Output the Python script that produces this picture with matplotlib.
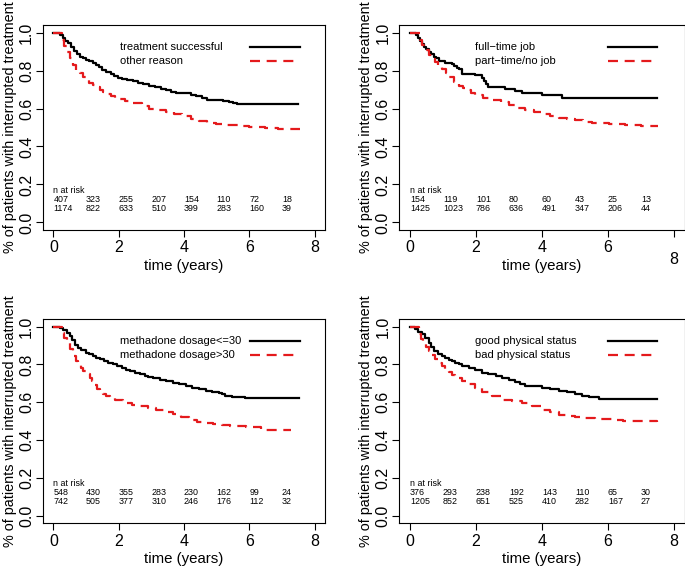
import matplotlib
matplotlib.use("Agg")
import matplotlib.pyplot as plt
from matplotlib.transforms import ScaledTranslation

plt.rcParams['font.family'] = ['Liberation Sans', 'DejaVu Sans']

# --- data (Kaplan-Meier step curves) ---
# panel 1: reason for leaving
t_succ = [0, 0.2, 0.28, 0.36, 0.45, 0.55, 0.63, 0.71, 0.8, 0.9, 1.0, 1.1, 1.2, 1.3, 1.4, 1.5, 1.62, 1.75, 1.87, 1.97,
          2.1, 2.25, 2.43, 2.6, 2.75, 2.94, 3.1, 3.3, 3.45, 3.6, 3.75, 4.05, 4.2, 4.36, 4.55, 4.71, 5.0, 5.2, 5.37,
          5.5, 5.62, 7.5]
s_succ = [1.0, 0.985, 0.97, 0.958, 0.945, 0.925, 0.905, 0.889, 0.872, 0.864, 0.858, 0.85, 0.84, 0.83, 0.818, 0.803,
          0.79, 0.78, 0.77, 0.762, 0.758, 0.752, 0.747, 0.737, 0.727, 0.717, 0.712, 0.705, 0.70, 0.688, 0.682, 0.68,
          0.673, 0.668, 0.657, 0.647, 0.643, 0.638, 0.635, 0.628, 0.624, 0.624]
t_other = [0, 0.25, 0.32, 0.4, 0.5, 0.61, 0.7, 0.8, 0.91, 1.0, 1.1, 1.2, 1.3, 1.42, 1.52, 1.62, 1.75, 1.9, 2.03,
           2.2, 2.43, 2.7, 2.94, 3.2, 3.45, 3.7, 3.95, 4.2, 4.46, 4.7, 4.97, 5.2, 5.47, 5.75, 5.98, 6.25, 6.49,
           6.7, 6.89, 7.55]
s_other = [1.0, 0.96, 0.93, 0.9, 0.865, 0.827, 0.805, 0.785, 0.765, 0.75, 0.737, 0.724, 0.712, 0.70, 0.688, 0.677,
           0.668, 0.658, 0.65, 0.642, 0.63, 0.615, 0.60, 0.59, 0.58, 0.57, 0.558, 0.546, 0.535, 0.526, 0.518, 0.515,
           0.512, 0.507, 0.503, 0.501, 0.499, 0.495, 0.491, 0.491]

# panel 2: job
t_full = [0, 0.18, 0.24, 0.3, 0.36, 0.42, 0.5, 0.58, 0.65, 0.72, 0.8, 0.87, 1.07, 1.27, 1.35, 1.42, 1.5, 1.58,
          1.98, 2.18, 2.25, 2.32, 2.38, 2.89, 3.19, 3.39, 4.0, 4.61, 7.48]
s_full = [1.0, 0.985, 0.97, 0.955, 0.94, 0.925, 0.912, 0.9, 0.886, 0.872, 0.865, 0.85, 0.84, 0.835, 0.825, 0.815,
          0.806, 0.78, 0.775, 0.76, 0.745, 0.73, 0.715, 0.705, 0.694, 0.682, 0.67, 0.657, 0.657]
t_part = [0, 0.3, 0.38, 0.45, 0.57, 0.66, 0.75, 0.86, 0.97, 1.08, 1.2, 1.34, 1.48, 1.6, 1.7, 1.85, 1.98, 2.2,
          2.48, 2.75, 2.99, 3.25, 3.49, 3.75, 4.0, 4.25, 4.51, 4.75, 5.01, 5.25, 5.52, 5.75, 6.02, 6.25, 6.52,
          7.0, 7.5]
s_part = [1.0, 0.96, 0.935, 0.91, 0.88, 0.862, 0.845, 0.828, 0.81, 0.788, 0.765, 0.742, 0.72, 0.706, 0.695,
          0.682, 0.67, 0.657, 0.643, 0.632, 0.62, 0.605, 0.59, 0.58, 0.569, 0.56, 0.551, 0.544, 0.537, 0.53, 0.524,
          0.522, 0.52, 0.516, 0.512, 0.51, 0.51]

# panel 3: methadone dosage
t_low = [0, 0.2, 0.3, 0.4, 0.51, 0.58, 0.66, 0.75, 0.85, 1.01, 1.1, 1.2, 1.3, 1.42, 1.55, 1.68, 1.82, 1.95, 2.1,
         2.23, 2.35, 2.5, 2.64, 2.8, 2.9, 3.04, 3.25, 3.45, 3.65, 3.85, 4.05, 4.26, 4.45, 4.66, 4.85, 5.07, 5.17,
         5.27, 5.47, 5.88, 7.53]
s_low = [1.0, 0.99, 0.98, 0.968, 0.95, 0.93, 0.905, 0.888, 0.875, 0.862, 0.853, 0.845, 0.836, 0.827, 0.818, 0.808,
         0.80, 0.79, 0.78, 0.77, 0.765, 0.755, 0.748, 0.74, 0.733, 0.727, 0.72, 0.713, 0.703, 0.695, 0.686, 0.676,
         0.668, 0.659, 0.655, 0.65, 0.642, 0.635, 0.626, 0.623, 0.623]
t_high = [0, 0.25, 0.33, 0.4, 0.5, 0.61, 0.68, 0.75, 0.83, 0.91, 1.0, 1.11, 1.18, 1.25, 1.33, 1.42, 1.52, 1.62,
          1.72, 1.9, 2.13, 2.4, 2.64, 2.9, 3.14, 3.4, 3.65, 3.9, 4.15, 4.4, 4.66, 4.9, 5.17, 5.4, 5.67, 5.9, 6.18,
          6.35, 6.49, 7.29]
s_high = [1.0, 0.965, 0.94, 0.915, 0.88, 0.844, 0.82, 0.80, 0.78, 0.764, 0.748, 0.729, 0.71, 0.69, 0.672, 0.658,
          0.645, 0.632, 0.623, 0.61, 0.597, 0.588, 0.579, 0.57, 0.561, 0.55, 0.538, 0.523, 0.508, 0.498, 0.49,
          0.483, 0.478, 0.475, 0.472, 0.47, 0.467, 0.46, 0.455, 0.455]

# panel 4: physical status
t_good = [0, 0.16, 0.25, 0.36, 0.46, 0.57, 0.65, 0.72, 0.85, 0.97, 1.07, 1.17, 1.27, 1.37, 1.48, 1.58, 1.78, 1.98,
          2.18, 2.38, 2.6, 2.79, 3.0, 3.19, 3.35, 3.49, 4.0, 4.25, 4.51, 4.75, 5.01, 5.2, 5.42, 5.72, 7.48]
s_good = [1.0, 0.985, 0.972, 0.959, 0.94, 0.915, 0.89, 0.87, 0.855, 0.844, 0.834, 0.825, 0.817, 0.809, 0.8, 0.791,
          0.78, 0.768, 0.757, 0.748, 0.737, 0.727, 0.718, 0.709, 0.697, 0.685, 0.676, 0.669, 0.662, 0.652, 0.641,
          0.634, 0.627, 0.616, 0.616]
t_bad = [0, 0.27, 0.33, 0.4, 0.48, 0.57, 0.66, 0.75, 0.86, 0.97, 1.07, 1.17, 1.27, 1.37, 1.57, 1.78, 1.98, 2.18,
         2.48, 2.79, 3.1, 3.39, 3.7, 4.0, 4.25, 4.51, 4.75, 5.01, 5.3, 5.62, 5.9, 6.22, 6.45, 6.64, 7.48]
s_bad = [1.0, 0.96, 0.935, 0.91, 0.89, 0.87, 0.85, 0.83, 0.81, 0.791, 0.775, 0.76, 0.745, 0.729, 0.71, 0.694,
         0.675, 0.655, 0.635, 0.614, 0.606, 0.597, 0.58, 0.561, 0.547, 0.534, 0.526, 0.52, 0.516, 0.513, 0.51,
         0.508, 0.503, 0.499, 0.497]

risk_times = [0, 1, 2, 3, 4, 5, 6, 7]
risk_succ = [407, 323, 255, 207, 154, 110, 72, 18]
risk_other = [1174, 822, 633, 510, 399, 283, 160, 39]
risk_full = [154, 119, 101, 80, 60, 43, 25, 13]
risk_part = [1425, 1023, 786, 636, 491, 347, 206, 44]
risk_low = [548, 430, 355, 283, 230, 162, 99, 24]
risk_high = [742, 505, 377, 310, 246, 176, 112, 32]
risk_good = [376, 293, 238, 192, 143, 110, 65, 30]
risk_bad = [1205, 852, 651, 525, 410, 282, 167, 27]

labels_1 = ["treatment successful", "other reason"]
labels_2 = ["full\u2212time job", "part\u2212time/no job"]
labels_3 = ["methadone dosage<=30", "methadone dosage>30"]
labels_4 = ["good physical status", "bad physical status"]

x_ticks = [0, 2, 4, 6, 8]
y_ticks = [0.0, 0.2, 0.4, 0.6, 0.8, 1.0]
y_ticklabels = ["0.0", "0.2", "0.4", "0.6", "0.8", "1.0"]

RED = '#e41a1c'

fig = plt.figure(figsize=(6.85, 5.71), dpi=100)
W, H = 685, 571


def make_ax(left, top, right, bottom):
    return fig.add_axes([left / W, 1 - bottom / H, (right - left) / W, (bottom - top) / H])


def panel(ax, t1, s1, t2, s2, labels, r1, r2, leg_x, line_x):
    ax.step(t1, s1, where='post', color='black', lw=1.6)
    ax.step(t2, s2, where='post', color=RED, lw=1.6, dashes=(4.5, 3.0))

    # legend without box, R style: labels left, line samples right
    ax.text(leg_x, 0.925, labels[0], fontsize=8, va='center', ha='left')
    ax.text(leg_x, 0.85, labels[1], fontsize=8, va='center', ha='left')
    ax.plot(line_x, [0.925, 0.925], color='black', lw=1.6)
    ax.plot(line_x, [0.85, 0.85], color=RED, lw=1.6, dashes=(4.5, 3.0))

    # n at risk table
    ax.text(0, 0.17, "n at risk", fontsize=6.4, va='center', ha='left')
    for t, a, b in zip(risk_times, r1, r2):
        ax.text(t, 0.122, str(a), fontsize=6.4, va='center', ha='left')
        ax.text(t, 0.073, str(b), fontsize=6.4, va='center', ha='left')

    ax.set_xlim(-0.32, 8.32)
    ax.set_ylim(-0.04, 1.04)
    ax.set_xticks(x_ticks)
    ax.set_xticklabels([str(v) for v in x_ticks], fontsize=11.5)
    ax.set_yticks(y_ticks)
    ax.set_yticklabels(y_ticklabels, fontsize=11.5, rotation=90, va='center')
    ax.tick_params(direction='out', length=5, width=0.8, pad=2.5)
    ax.tick_params(axis='y', pad=1.5)
    for sp in ax.spines.values():
        sp.set_linewidth(0.8)
    ax.set_xlabel("time (years)", fontsize=10.8, va='center')
    ax.set_ylabel("% of patients with interrupted treatment", fontsize=10.4, va='center')
    ax.xaxis.set_label_coords(0.5, -0.177)
    ax.yaxis.set_label_coords(-0.118, 0.5)


ax1 = make_ax(43, 25, 325, 230)
ax2 = make_ax(399.3, 25, 684.6, 230)
ax3 = make_ax(43, 319, 325, 523.3)
ax4 = make_ax(399.3, 319, 684.6, 523.3)

panel(ax1, t_succ, s_succ, t_other, s_other, labels_1, risk_succ, risk_other, 2.03, [6.03, 7.55])
panel(ax2, t_full, s_full, t_part, s_part, labels_2, risk_full, risk_part, 1.98, [5.99, 7.48])
panel(ax3, t_low, s_low, t_high, s_high, labels_3, risk_low, risk_high, 2.03, [6.03, 7.55])
panel(ax4, t_good, s_good, t_bad, s_bad, labels_4, risk_good, risk_bad, 1.98, [5.99, 7.48])

# the "8" on the upper right panel sits lower in the original
lab8 = ax2.get_xticklabels()[-1]
lab8.set_transform(lab8.get_transform() + ScaledTranslation(0, -8 / 72, fig.dpi_scale_trans))

fig.savefig("out.png", dpi=100)
